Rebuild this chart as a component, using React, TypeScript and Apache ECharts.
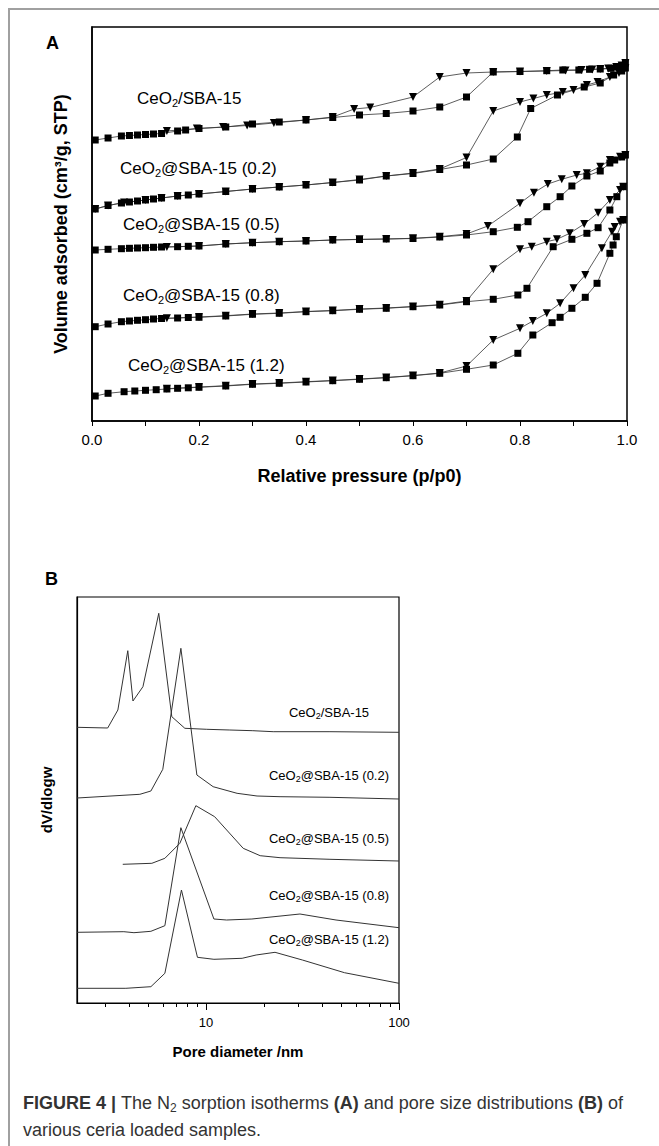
import { useEffect, useRef } from 'react';
import * as echarts from 'echarts';

const FONT = '"Liberation Sans", Arial, Helvetica, sans-serif';

const sampleNames = [
  'CeO2/SBA-15',
  'CeO2@SBA-15 (0.2)',
  'CeO2@SBA-15 (0.5)',
  'CeO2@SBA-15 (0.8)',
  'CeO2@SBA-15 (1.2)',
];

const pressureTicks = [0, 0.2, 0.4, 0.6, 0.8, 1.0];
const poreMajorTicks = [10, 100];
const poreMinorTicks = [3, 4, 5, 6, 7, 8, 9, 20, 30, 40, 50, 60, 70, 80, 90];

// Panel A: [p/p0, volume adsorbed (arbitrary, axis unlabelled)]
const adsA1 = [[0.006,281],[0.03,283],[0.055,285],[0.07,285.5],[0.085,286],[0.10,286.5],[0.115,287],[0.13,287.5],[0.16,290],[0.175,291],[0.20,292.5],[0.25,294],[0.30,297],[0.35,299],[0.40,301],[0.45,303.5],[0.50,306],[0.55,307.5],[0.60,310],[0.65,314],[0.70,324],[0.75,349],[0.80,349.5],[0.85,350.3],[0.88,351],[0.91,351],[0.93,351.7],[0.95,352],[0.97,352.7],[0.98,354],[0.99,355],[0.997,358]];
const desA1 = [[0.997,358],[0.99,355.5],[0.98,354],[0.965,352.5],[0.95,352],[0.935,351.5],[0.915,351],[0.885,350.5],[0.85,350],[0.80,349.5],[0.75,349],[0.70,348],[0.65,344],[0.60,324],[0.52,313.5],[0.49,312],[0.45,304],[0.40,301],[0.34,298],[0.29,295.5],[0.245,294],[0.196,292.5],[0.14,290]];

const adsA2 = [[0.006,212],[0.03,215.5],[0.055,218],[0.07,219],[0.085,220],[0.10,221],[0.115,222],[0.13,223],[0.16,225],[0.18,226],[0.20,227],[0.25,229.5],[0.30,232],[0.35,234],[0.40,236],[0.45,238.5],[0.50,241],[0.55,245],[0.60,247.5],[0.65,251.5],[0.70,256],[0.75,262],[0.795,284],[0.82,312.5],[0.87,326],[0.92,334],[0.95,338],[0.975,346],[0.99,350],[0.997,353]];
const desA2 = [[0.997,353],[0.985,348],[0.968,344],[0.945,339],[0.925,336],[0.90,331],[0.88,329],[0.85,326],[0.825,322.5],[0.80,319],[0.75,310],[0.70,263.5],[0.65,252],[0.60,248],[0.55,245],[0.50,241.5],[0.45,238.5],[0.40,236],[0.35,234],[0.30,232],[0.25,229.5],[0.20,227],[0.16,225],[0.13,223],[0.10,221],[0.06,218.5],[0.03,215.5],[0.006,212]];

const adsA3 = [[0.006,171],[0.03,171.7],[0.055,172.3],[0.07,172.7],[0.085,173],[0.10,173.3],[0.115,173.7],[0.13,174],[0.16,174.3],[0.18,174.7],[0.20,175],[0.25,177],[0.30,178.3],[0.35,179.3],[0.40,180],[0.45,181],[0.50,181.5],[0.55,182],[0.60,182.5],[0.65,184],[0.70,186],[0.75,189.3],[0.795,193.7],[0.815,199.3],[0.85,214.3],[0.875,224.3],[0.897,235],[0.925,245],[0.95,250],[0.968,258],[0.977,261],[0.99,264],[0.997,266]];
const desA3 = [[0.997,266],[0.987,264.3],[0.968,261],[0.95,254.3],[0.925,247.7],[0.906,246],[0.878,241.7],[0.852,237],[0.826,228.3],[0.80,217.7],[0.74,195],[0.70,187],[0.65,184.3],[0.60,182.7],[0.55,182],[0.50,181.7],[0.45,181],[0.40,180],[0.35,179.3],[0.30,178.3],[0.25,177],[0.20,175],[0.14,174]];

const adsA4 = [[0.006,94.3],[0.03,97],[0.055,99.3],[0.07,100],[0.085,100.7],[0.10,101.3],[0.115,102],[0.13,102.5],[0.16,103],[0.18,103.5],[0.20,103.7],[0.25,105],[0.30,106.7],[0.35,107.7],[0.40,109.3],[0.45,110.3],[0.50,111.7],[0.55,112.7],[0.60,114.3],[0.65,116],[0.70,119.3],[0.75,121.7],[0.796,126],[0.813,132.7],[0.862,174.3],[0.897,181.7],[0.925,187.7],[0.946,193.3],[0.968,211],[0.981,224.3],[0.993,234.3]];
const desA4 = [[0.993,234.3],[0.987,231],[0.968,221],[0.946,208.3],[0.92,197],[0.893,187.7],[0.869,181.7],[0.85,179.3],[0.822,174.3],[0.80,171.7],[0.75,151.7],[0.70,120],[0.65,116.3],[0.60,114.5],[0.55,113],[0.50,112],[0.45,110.5],[0.40,109.5],[0.35,108],[0.30,107],[0.25,105.3],[0.20,104],[0.14,102.7]];

const adsA5 = [[0.006,25],[0.03,27.7],[0.06,29.3],[0.08,30],[0.10,30.7],[0.12,31.3],[0.14,32],[0.16,32.7],[0.18,33.2],[0.20,33.7],[0.25,35],[0.30,36.7],[0.35,37.7],[0.40,39],[0.45,40.3],[0.50,41.7],[0.55,43.3],[0.60,45.3],[0.65,47.7],[0.70,51.7],[0.75,56],[0.796,67.7],[0.824,86],[0.86,98.3],[0.875,103.7],[0.897,112.7],[0.922,123.7],[0.944,137.7],[0.968,167.7],[0.974,176],[0.98,184.3],[0.993,201]];
const desA5 = [[0.993,201],[0.987,199.3],[0.977,194],[0.972,189.3],[0.953,172.7],[0.922,146],[0.90,132.7],[0.875,117.7],[0.85,107.7],[0.824,100],[0.80,92.7],[0.75,81],[0.70,55],[0.65,48],[0.60,45.5],[0.55,43.5],[0.50,42],[0.45,40.5],[0.40,39.3],[0.35,38],[0.30,37],[0.25,35.3],[0.20,34],[0.14,32.3]];

// Panel B: [pore diameter (nm), dV/dlogw (arbitrary, offset curves)]
const psdB1 = [[2.15,275.7],[3.1,275],[3.5,293],[3.94,352.3],[4.19,302],[4.72,316.3],[5.7,389.7],[6.66,286.3],[7.78,274.7],[10.1,273.7],[13.3,273],[17.5,272.3],[22.3,271.3],[43.9,271.3],[100,270.7]];
const psdB2 = [[2.15,205],[4.55,208.7],[5.19,212],[5.98,233.7],[7.42,354.7],[8.98,228],[10.9,216.3],[14.5,209.7],[18.4,207],[24.2,206.3],[43.9,205.7],[100,204]];
const psdB3 = [[3.71,138.7],[5.25,139.7],[6.13,144.7],[7.33,159.7],[8.87,197.3],[11.1,186.3],[15.6,154.7],[19.1,147.3],[24.2,145.3],[43.9,143.7],[100,142]];
const psdB4 = [[2.15,70.7],[3.76,71.3],[4.24,70.3],[5.19,71.7],[6.13,77.3],[7.42,175.3],[11.0,84],[12.8,83],[17.3,84],[30.7,89],[47.2,83],[100,75.3]];
const psdB5 = [[2.15,14.7],[3.85,14.7],[5.19,16.3],[6.13,29.7],[7.47,113],[9.04,45.7],[11.0,43.7],[15.4,44.7],[18.2,48],[22.8,50.7],[31.6,43],[52.2,30.3],[100,19.7]];

const adsList = [adsA1, adsA2, adsA3, adsA4, adsA5];
const desList = [desA1, desA2, desA3, desA4, desA5];
const psdList = [psdB1, psdB2, psdB3, psdB4, psdB5];

const POREMIN = 2.15;
const POREMAX = 100;

function richName(name: string) {
  const rest = name.replace('CeO2', '');
  return '{a|CeO}{s|2}{a|' + rest + '}';
}

export default function App() {
  const ref = useRef<HTMLDivElement>(null);

  useEffect(() => {
    if (!ref.current) return;
    const chart = echarts.init(ref.current, undefined, { renderer: 'svg' });

    const series: any[] = [];
    adsList.forEach((d, i) => {
      series.push({
        type: 'line', xAxisIndex: 0, yAxisIndex: 0, data: d,
        symbol: 'rect', symbolSize: 7, showAllSymbol: true,
        lineStyle: { color: '#333', width: 0.8 }, itemStyle: { color: '#000' },
        z: 3, name: sampleNames[i] + ' ads',
      });
      series.push({
        type: 'line', xAxisIndex: 0, yAxisIndex: 0, data: desList[i],
        symbol: 'triangle', symbolRotate: 180, symbolSize: 8, showAllSymbol: true,
        lineStyle: { color: '#333', width: 0.8 }, itemStyle: { color: '#000' },
        z: 3, name: sampleNames[i] + ' des',
      });
    });
    psdList.forEach((d, i) => {
      series.push({
        type: 'line', xAxisIndex: 1, yAxisIndex: 1,
        data: d.map((p) => [Math.log10(p[0]), p[1]]),
        showSymbol: false, symbol: 'none',
        lineStyle: { color: '#333', width: 1 },
        name: sampleNames[i] + ' psd',
      });
    });

    const aLabelPos = [[137, 98], [120, 168], [123, 224], [123, 295], [128, 365]];
    const bLabelY = [712, 775, 838, 895, 939];

    const richA = {
      a: { fontSize: 17, fontFamily: FONT, fill: '#000', lineHeight: 20 },
      s: { fontSize: 11, fontFamily: FONT, fill: '#000', lineHeight: 5, verticalAlign: 'bottom' },
    };
    const richB = {
      a: { fontSize: 13, fontFamily: FONT, fill: '#000', lineHeight: 16 },
      s: { fontSize: 9, fontFamily: FONT, fill: '#000', lineHeight: 4, verticalAlign: 'bottom' },
    };
    const richCap = {
      n: { fontSize: 18, fontFamily: FONT, fill: '#333', lineHeight: 21 },
      b: { fontSize: 18, fontFamily: FONT, fill: '#333', fontWeight: 'bold', lineHeight: 21 },
      s: { fontSize: 12, fontFamily: FONT, fill: '#333', lineHeight: 5, verticalAlign: 'bottom' },
    };

    const graphic: any[] = [
      { type: 'line', shape: { x1: 8, y1: 9, x2: 659, y2: 9 }, style: { stroke: '#a0a0a0', lineWidth: 2 } },
      { type: 'line', shape: { x1: 9, y1: 8, x2: 9, y2: 1146 }, style: { stroke: '#a0a0a0', lineWidth: 2 } },
      { type: 'text', x: 46, y: 43, style: { text: 'A', font: 'bold 18px ' + FONT, fill: '#000', verticalAlign: 'middle' } },
      { type: 'text', x: 45, y: 579, style: { text: 'B', font: 'bold 18px ' + FONT, fill: '#000', verticalAlign: 'middle' } },
      {
        type: 'text', x: 23, y: 1103,
        style: {
          text: '{b|FIGURE 4 | }{n|The N}{s|2}{n| sorption isotherms }{b|(A)}{n| and pore size distributions }{b|(B)}{n| of}',
          rich: richCap, verticalAlign: 'middle', align: 'left',
        },
      },
      {
        type: 'text', x: 23, y: 1130,
        style: { text: '{n|various ceria loaded samples.}', rich: richCap, verticalAlign: 'middle', align: 'left' },
      },
    ];
    sampleNames.forEach((n, i) => {
      graphic.push({
        type: 'text', x: aLabelPos[i][0], y: aLabelPos[i][1], z: 10,
        style: { text: richName(n), rich: richA, verticalAlign: 'middle', align: 'left' },
      });
      graphic.push({
        type: 'text', x: 329, y: bLabelY[i], z: 10,
        style: { text: richName(n), rich: richB, verticalAlign: 'middle', align: 'center' },
      });
    });

    const option: any = {
      animation: false,
      backgroundColor: '#fff',
      grid: [
        { left: 92, top: 27, width: 535, height: 394, show: true, borderColor: '#000', borderWidth: 1.5, backgroundColor: 'transparent' },
        { left: 77, top: 597, width: 322, height: 406, show: true, borderColor: '#000', borderWidth: 1.2, backgroundColor: 'transparent' },
      ],
      xAxis: [
        {
          type: 'value', gridIndex: 0, min: 0, max: 1, interval: 0.2,
          axisLine: { lineStyle: { color: '#000', width: 1.5 } },
          axisTick: { show: true, length: 5, lineStyle: { color: '#000', width: 1 } },
          minorTick: { show: true, splitNumber: 2, length: 5, lineStyle: { color: '#000', width: 1 } },
          axisLabel: {
            customValues: pressureTicks,
            formatter: (v: number) => v.toFixed(1), fontSize: 15, color: '#000', margin: 11, fontFamily: FONT,
          },
          splitLine: { show: false },
          name: 'Relative pressure (p/p0)', nameLocation: 'middle', nameGap: 46,
          nameTextStyle: { fontSize: 18, fontWeight: 'bold', color: '#000', fontFamily: FONT },
        },
        {
          type: 'value', gridIndex: 1, position: 'bottom', min: Math.log10(POREMIN), max: Math.log10(POREMAX),
          axisLine: { lineStyle: { color: '#000', width: 1.2 } },
          axisTick: { show: true, length: 7, customValues: poreMajorTicks.map((t) => Math.log10(t)), lineStyle: { color: '#000', width: 1 } },
          axisLabel: {
            customValues: poreMajorTicks.map((t) => Math.log10(t)),
            formatter: (v: number) => String(Math.round(Math.pow(10, v))),
            fontSize: 13, color: '#000', margin: 13, fontFamily: FONT,
          },
          splitLine: { show: false },
          name: 'Pore diameter /nm', nameLocation: 'middle', nameGap: 41,
          nameTextStyle: { fontSize: 15, fontWeight: 'bold', color: '#000', fontFamily: FONT },
        },
        {
          type: 'value', gridIndex: 1, position: 'bottom', min: Math.log10(POREMIN), max: Math.log10(POREMAX),
          axisLine: { show: false },
          axisTick: { show: true, length: 4, customValues: poreMinorTicks.map((t) => Math.log10(t)), lineStyle: { color: '#000', width: 1 } },
          axisLabel: { show: false },
          splitLine: { show: false },
        },
      ],
      yAxis: [
        {
          type: 'value', gridIndex: 0, min: 0, max: 394,
          axisLine: { show: true, lineStyle: { color: '#000', width: 1.5 } },
          axisTick: { show: false }, axisLabel: { show: false }, splitLine: { show: false },
          name: 'Volume adsorbed (cm³/g, STP)', nameLocation: 'middle', nameGap: 22,
          nameTextStyle: { fontSize: 18, fontWeight: 'bold', color: '#000', fontFamily: FONT },
        },
        {
          type: 'value', gridIndex: 1, min: 0, max: 406,
          axisLine: { show: true, lineStyle: { color: '#000', width: 1.2 } },
          axisTick: { show: false }, axisLabel: { show: false }, splitLine: { show: false },
          name: 'dV/dlogw', nameLocation: 'middle', nameGap: 23,
          nameTextStyle: { fontSize: 15, fontWeight: 'bold', color: '#000', fontFamily: FONT },
        },
      ],
      series,
      graphic,
    };
    chart.setOption(option);
    return () => chart.dispose();
  }, []);

  return (
    <div
      ref={ref}
      style={{ position: 'absolute', left: 0, top: 0, width: 659, height: 1146, background: '#fff' }}
    />
  );
}
